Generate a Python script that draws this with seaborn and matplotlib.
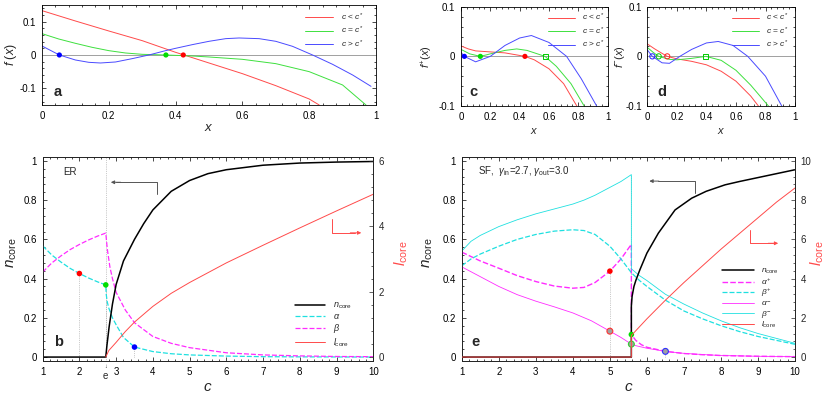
import numpy as np
import seaborn as sns
import matplotlib
matplotlib.use('Agg')
from matplotlib import pyplot as plt
from matplotlib.ticker import MultipleLocator, FuncFormatter

##### values

## panel a : f(x)
xa_lo = [0, 0.1, 0.2, 0.3, 0.4, 0.5, 0.6, 0.7, 0.8, 0.83]
fa_lo = [0.133, 0.102, 0.072, 0.043, 0.008, -0.024, -0.056, -0.092, -0.132, -0.15]
xa_eq = [0, 0.05, 0.1, 0.15, 0.2, 0.25, 0.3, 0.37, 0.45, 0.5, 0.6, 0.7, 0.8, 0.9, 0.97]
fa_eq = [0.064, 0.048, 0.035, 0.023, 0.013, 0.006, 0.002, 0.0, -0.003, -0.006, -0.013, -0.026, -0.05, -0.09, -0.15]
xa_hi = [0, 0.052, 0.1, 0.14, 0.175, 0.22, 0.27, 0.32, 0.37, 0.4, 0.45, 0.5, 0.55, 0.59, 0.65, 0.7, 0.75, 0.81, 0.87, 0.93, 0.985]
fa_hi = [0.027, 0.0, -0.015, -0.022, -0.024, -0.021, -0.011, 0.0, 0.013, 0.02, 0.031, 0.041, 0.049, 0.051, 0.049, 0.041, 0.026, 0.0, -0.028, -0.06, -0.094]
roots_a = [0.423, 0.371, 0.052]          # red, green, blue

## panel c : f+(x)
xc_lo = [0, 0.05, 0.1, 0.2, 0.3, 0.436, 0.5, 0.6, 0.7, 0.79]
fc_lo = [0.021, 0.015, 0.011, 0.009, 0.007, 0.0, -0.007, -0.025, -0.055, -0.1]
xc_eq = [0, 0.06, 0.132, 0.2, 0.3, 0.38, 0.45, 0.573, 0.65, 0.75, 0.84]
fc_eq = [0.014, 0.005, 0.0, 0.005, 0.012, 0.015, 0.012, 0.0, -0.02, -0.055, -0.1]
xc_hi = [0, 0.023, 0.1, 0.2, 0.3, 0.4, 0.48, 0.6, 0.72, 0.82, 0.925]
fc_hi = [0.008, 0.0, -0.011, 0.0, 0.022, 0.037, 0.042, 0.028, 0.0, -0.045, -0.1]
roots_c = [0.436, 0.132, 0.023]
square_c = 0.573

## panel d : f-(x)
xd_lo = [0, 0.05, 0.1, 0.135, 0.2, 0.3, 0.4, 0.5, 0.6, 0.7, 0.752]
fd_lo = [0.025, 0.015, 0.006, 0.0, -0.005, -0.01, -0.017, -0.03, -0.05, -0.08, -0.1]
xd_eq = [0, 0.04, 0.077, 0.15, 0.2, 0.3, 0.397, 0.5, 0.6, 0.7, 0.82]
fd_eq = [0.018, 0.008, 0.0, -0.006, -0.007, -0.004, 0.0, -0.008, -0.028, -0.058, -0.1]
xd_hi = [0, 0.034, 0.1, 0.15, 0.22, 0.3, 0.4, 0.48, 0.58, 0.68, 0.8, 0.91]
fd_hi = [0.013, 0.0, -0.013, -0.014, 0.0, 0.014, 0.027, 0.03, 0.022, 0.0, -0.04, -0.1]
roots_d = [0.135, 0.077, 0.034]
square_d = 0.397

## panel b : ER
cb_n = [1, 2.718, 2.75, 2.81, 2.9, 3.0, 3.2, 3.5, 3.75, 4, 4.5, 5, 5.5, 6, 7, 8, 9, 10]
nb = [0, 0, 0.06, 0.155, 0.27, 0.37, 0.49, 0.6, 0.68, 0.75, 0.845, 0.9, 0.935, 0.955, 0.978, 0.989, 0.994, 0.997]
cb_a = [1, 1.25, 1.5, 1.75, 2, 2.25, 2.5, 2.718, 2.73, 2.76, 2.8, 2.9, 3.0, 3.2, 3.5, 4, 4.5, 5, 6, 7, 8, 10]
alpha_b = [0.567, 0.52, 0.484, 0.452, 0.426, 0.403, 0.383, 0.368, 0.32, 0.28, 0.25, 0.2, 0.165, 0.1, 0.051, 0.028, 0.017, 0.011, 0.005, 0.002, 0.001, 0.0]
cb_b = [1, 1.25, 1.5, 1.75, 2, 2.25, 2.5, 2.718, 2.76, 2.83, 2.9, 3.0, 3.25, 3.5, 4, 4.5, 5, 6, 7, 8, 9, 10]
beta_b = [0.433, 0.48, 0.516, 0.548, 0.574, 0.597, 0.617, 0.632, 0.55, 0.46, 0.4, 0.33, 0.24, 0.175, 0.105, 0.07, 0.048, 0.022, 0.011, 0.006, 0.003, 0.002]
cb_l = [2.718, 2.8, 3, 3.25, 3.5, 4, 4.5, 5, 6, 7, 8, 9, 10]
lb = [0, 0.2, 0.45, 0.78, 1.07, 1.55, 1.95, 2.28, 2.88, 3.42, 3.95, 4.47, 4.98]
dots_b_c = [2, 2.718, 3.5]
dots_b_y = [0.426, 0.368, 0.051]

## panel e : SF
ce_n = [1, 5.58, 5.58, 5.6, 5.65, 5.7, 5.81, 6.0, 6.31, 6.76, 7.21, 7.6, 8.11, 8.5, 9, 9.5, 10]
ne = [0, 0, 0.26, 0.31, 0.36, 0.39, 0.445, 0.53, 0.632, 0.75, 0.81, 0.845, 0.878, 0.895, 0.915, 0.935, 0.955]
ce_ap = [1, 1.5, 2, 2.5, 3, 3.5, 4, 4.3, 4.6, 5, 5.3, 5.58, 5.58, 5.7, 5.85, 6, 6.5, 7, 7.5, 8, 9, 10]
alpha_p = [0.535, 0.49, 0.453, 0.415, 0.385, 0.362, 0.351, 0.355, 0.38, 0.438, 0.5, 0.575, 0.115, 0.085, 0.063, 0.05, 0.029, 0.018, 0.012, 0.008, 0.004, 0.002]
ce_bp = [1, 1.25, 1.5, 2, 2.5, 3, 3.5, 4, 4.3, 4.6, 5, 5.3, 5.58, 5.8, 6, 6.5, 7, 7.5, 8, 8.5, 9, 9.5, 10]
beta_p = [0.465, 0.5, 0.525, 0.565, 0.6, 0.625, 0.642, 0.649, 0.645, 0.625, 0.565, 0.5, 0.43, 0.39, 0.36, 0.29, 0.235, 0.195, 0.16, 0.13, 0.105, 0.085, 0.065]
ce_am = [1, 1.5, 2, 2.5, 3, 3.5, 4, 4.5, 5, 5.3, 5.58, 5.7, 6, 6.5, 7, 7.5, 8, 9, 10]
alpha_m = [0.46, 0.41, 0.36, 0.318, 0.285, 0.256, 0.225, 0.185, 0.132, 0.1, 0.066, 0.058, 0.045, 0.029, 0.019, 0.013, 0.008, 0.004, 0.002]
ce_bm = [1, 1.25, 1.5, 2, 2.5, 3, 3.5, 4, 4.3, 4.6, 5, 5.3, 5.58, 5.58, 5.8, 6, 6.5, 7, 7.5, 8, 8.5, 9, 9.5, 10]
beta_m = [0.54, 0.59, 0.62, 0.665, 0.7, 0.73, 0.755, 0.78, 0.8, 0.825, 0.865, 0.895, 0.93, 0.45, 0.415, 0.39, 0.32, 0.27, 0.225, 0.185, 0.15, 0.12, 0.095, 0.07]
ce_l = [1, 5.58, 5.58, 6, 6.5, 7, 7.5, 8, 8.5, 9, 9.5, 10]
le = [0, 0, 1.1, 1.95, 2.9, 3.8, 4.65, 5.5, 6.3, 7.1, 7.9, 8.62]
fill_e_c = [5, 5.58, 6.5]
fill_e_y = [0.438, 0.115, 0.029]
open_e_c = [5, 5.58, 6.5]
open_e_y = [0.132, 0.066, 0.029]
drop_e_c = [5, 5.58, 6.5]
drop_e_y = [0.438, 0.93, 0.029]

##### styling
sns.set_theme(style='ticks')
plt.rcParams['font.family'] = ['Liberation Sans', 'DejaVu Sans']
plt.rcParams['mathtext.fontset'] = 'custom'
plt.rcParams['mathtext.rm'] = 'Liberation Sans'
plt.rcParams['mathtext.it'] = 'Liberation Sans:italic'
plt.rcParams['mathtext.bf'] = 'Liberation Sans:bold'

RED = '#ff4a4a'
GREEN = '#3ee03e'
BLUE = '#4a4aff'
CYAN = '#1fe0e0'
MAG = '#ff2cff'
DASH = (0, (4, 1.6))
TICK = 7
fmt = FuncFormatter(lambda v, p: '%g' % round(v, 6))


def line(ax, x, y, **kw):
    sns.lineplot(x=x, y=y, ax=ax, estimator=None, sort=False, **kw)


def style(ax, xmaj, xmin, ymaj, ymin, right=True):
    ax.xaxis.set_major_locator(MultipleLocator(xmaj))
    ax.xaxis.set_minor_locator(MultipleLocator(xmin))
    ax.yaxis.set_major_locator(MultipleLocator(ymaj))
    ax.yaxis.set_minor_locator(MultipleLocator(ymin))
    ax.xaxis.set_major_formatter(fmt)
    ax.yaxis.set_major_formatter(fmt)
    ax.tick_params(which='both', direction='in', top=True, right=right,
                   labelsize=TICK, width=0.5, pad=4, colors='black')
    ax.tick_params(which='major', length=3)
    ax.tick_params(which='minor', length=1.5)
    for s in ax.spines.values():
        s.set_linewidth(0.6)
        s.set_color('black')


def style_right(ax2, ymaj, ymin):
    ax2.yaxis.set_major_locator(MultipleLocator(ymaj))
    ax2.yaxis.set_minor_locator(MultipleLocator(ymin))
    ax2.yaxis.set_major_formatter(fmt)
    ax2.tick_params(which='both', direction='in', labelsize=TICK, width=0.5, pad=4)
    ax2.tick_params(which='major', length=3)
    ax2.tick_params(which='minor', length=1.5)
    for s in ax2.spines.values():
        s.set_linewidth(0.6)


def make_legend(ax, handles, labels, x0, y0, size, hl, spacing):
    ax.legend(handles, labels, loc='upper left', bbox_to_anchor=(x0, y0), frameon=False,
              fontsize=size, handlelength=hl, handletextpad=0.9, labelspacing=spacing,
              borderpad=0, borderaxespad=0)


labels_top = [r'$c$ < $c^{*}$', r'$c$ = $c^{*}$', r'$c$ > $c^{*}$']

fig = plt.figure(figsize=(8.3, 3.95), dpi=100)
ax_a = fig.add_axes([0.0506, 0.7342, 0.4024, 0.2532])
ax_c = fig.add_axes([0.5554, 0.7316, 0.1767, 0.2514])
ax_d = fig.add_axes([0.7799, 0.7316, 0.1780, 0.2514])
ax_b = fig.add_axes([0.0514, 0.0861, 0.3983, 0.5165])
ax_e = fig.add_axes([0.5563, 0.0861, 0.4016, 0.5165])

##### panel a
ax_a.axhline(0, color='#a0a0a0', lw=0.7, zorder=1)
line(ax_a, xa_lo, fa_lo, color=RED, lw=0.7, label=labels_top[0])
line(ax_a, xa_eq, fa_eq, color=GREEN, lw=0.7, label=labels_top[1])
line(ax_a, xa_hi, fa_hi, color=BLUE, lw=0.7, label=labels_top[2])
ax_a.scatter(roots_a, [0, 0, 0], c=['#ff0000', '#00dd00', '#0000ff'], s=14, zorder=5, linewidths=0)
ax_a.set_xlim(0, 1)
ax_a.set_ylim(-0.15, 0.15)
style(ax_a, 0.2, 0.04, 0.1, 0.02)
ax_a.set_xlabel(r'$x$', fontsize=9.5)
ax_a.set_ylabel(r'$f\ (x)$', fontsize=9)
ax_a.xaxis.set_label_coords(0.5, -0.17)
ax_a.yaxis.set_label_coords(-0.07, 0.5)
ax_a.text(0.035, 0.13, 'a', transform=ax_a.transAxes, fontsize=10.5, fontweight='bold', va='center')
h, l = ax_a.get_legend_handles_labels()
make_legend(ax_a, h, l, 0.787, 0.935, 6, 3.4, 0.25)

##### panel c
ax_c.axhline(0, color='#a0a0a0', lw=0.7, zorder=1)
line(ax_c, xc_lo, fc_lo, color=RED, lw=0.7, label=labels_top[0])
line(ax_c, xc_eq, fc_eq, color=GREEN, lw=0.7, label=labels_top[1])
line(ax_c, xc_hi, fc_hi, color=BLUE, lw=0.7, label=labels_top[2])
ax_c.scatter(roots_c, [0, 0, 0], c=['#ff0000', '#00dd00', '#0000ff'], s=14, zorder=5, linewidths=0)
ax_c.scatter([square_c], [0], marker='s', s=13, facecolors='none', edgecolors='#00cc00', linewidths=0.7, zorder=5)
ax_c.set_xlim(0, 1)
ax_c.set_ylim(-0.1, 0.1)
style(ax_c, 0.2, 0.04, 0.1, 0.02)
ax_c.set_xlabel(r'$x$', fontsize=8)
ax_c.set_ylabel(r'$f^{+}(x)$', fontsize=8)
ax_c.xaxis.set_label_coords(0.5, -0.2)
ax_c.yaxis.set_label_coords(-0.175, 0.5)
ax_c.text(0.06, 0.145, 'c', transform=ax_c.transAxes, fontsize=10.5, fontweight='bold', va='center')
h, l = ax_c.get_legend_handles_labels()
make_legend(ax_c, h, l, 0.593, 0.945, 6, 3.2, 0.25)

##### panel d
ax_d.axhline(0, color='#a0a0a0', lw=0.7, zorder=1)
line(ax_d, xd_lo, fd_lo, color=RED, lw=0.7, label=labels_top[0])
line(ax_d, xd_eq, fd_eq, color=GREEN, lw=0.7, label=labels_top[1])
line(ax_d, xd_hi, fd_hi, color=BLUE, lw=0.7, label=labels_top[2])
ax_d.scatter(roots_d, [0, 0, 0], s=14, facecolors='none', edgecolors=['#ff2020', '#00cc00', '#2020ff'],
             linewidths=0.7, zorder=5)
ax_d.scatter([square_d], [0], marker='s', s=13, facecolors='none', edgecolors='#00cc00', linewidths=0.7, zorder=5)
ax_d.set_xlim(0, 1)
ax_d.set_ylim(-0.1, 0.1)
style(ax_d, 0.2, 0.04, 0.1, 0.02)
ax_d.set_xlabel(r'$x$', fontsize=8)
ax_d.set_ylabel(r'$f^{-}(x)$', fontsize=8)
ax_d.xaxis.set_label_coords(0.5, -0.2)
ax_d.yaxis.set_label_coords(-0.135, 0.5)
ax_d.text(0.07, 0.145, 'd', transform=ax_d.transAxes, fontsize=10.5, fontweight='bold', va='center')
h, l = ax_d.get_legend_handles_labels()
make_legend(ax_d, h, l, 0.573, 0.945, 6, 3.2, 0.25)

##### panel b (ER)
ax_b2 = ax_b.twinx()
ax_b.vlines(dots_b_c, 0, dots_b_y, colors='#9a9a9a', lw=0.5, linestyles=':', zorder=1)
ax_b.axvline(np.e, color='#9a9a9a', lw=0.5, ls=':', zorder=1)
line(ax_b, cb_n, nb, color='black', lw=1.1, label=r'$n_{\rm core}$', zorder=4)
line(ax_b, cb_a, alpha_b, color=CYAN, lw=0.9, linestyle=DASH, label=r'$\alpha$', zorder=3)
line(ax_b, cb_b, beta_b, color=MAG, lw=0.9, linestyle=DASH, label=r'$\beta$', zorder=3)
line(ax_b2, cb_l, lb, color=RED, lw=0.7, label=r'$l_{\rm core}$')
ax_b.scatter(dots_b_c, dots_b_y, c=['#ff0000', '#00dd00', '#0000ff'], s=16, zorder=6, linewidths=0)
# arrows pointing at the axes
ax_b.plot([4.12, 4.12, 3.0], [0.83, 0.891, 0.891], color='#555555', lw=0.7)
ax_b.annotate('', xy=(2.78, 0.891), xytext=(3.2, 0.891),
              arrowprops=dict(arrowstyle='-|>', color='#555555', lw=0.7, mutation_scale=5))
ax_b2.plot([8.87, 8.87, 9.5], [4.22, 3.8, 3.8], color=RED, lw=0.7)
ax_b2.annotate('', xy=(9.75, 3.8), xytext=(9.3, 3.8),
               arrowprops=dict(arrowstyle='-|>', color=RED, lw=0.7, mutation_scale=5))
ax_b.set_xlim(1, 10)
ax_b.set_ylim(-0.02, 1.02)
ax_b2.set_ylim(-0.12, 6.12)
style(ax_b, 1, 0.2, 0.2, 0.04, right=False)
style_right(ax_b2, 2, 0.4)
ax_b.set_xlabel(r'$c$', fontsize=11)
ax_b.set_ylabel(r'$n_{\rm core}$', fontsize=11)
ax_b2.set_ylabel(r'$l_{\rm core}$', fontsize=11, color=RED)
ax_b.xaxis.set_label_coords(0.5, -0.095)
ax_b.yaxis.set_label_coords(-0.072, 0.53)
ax_b2.yaxis.set_label_coords(1.06, 0.53)
ax_b.text(np.e, -0.028, '\u2193', transform=ax_b.get_xaxis_transform(), fontsize=4, ha='center', va='center')
ax_b.text(np.e, -0.075, 'e', transform=ax_b.get_xaxis_transform(), fontsize=TICK, ha='center', va='center')
ax_b.text(1.56, 0.945, 'ER', fontsize=7, va='center')
ax_b.text(1.3, 0.075, 'b', fontsize=10.5, fontweight='bold', va='center')
h1, l1 = ax_b.get_legend_handles_labels()
h2, l2 = ax_b2.get_legend_handles_labels()
if ax_b2.get_legend():
    ax_b2.get_legend().remove()
make_legend(ax_b, h1 + h2, l1 + l2, 0.763, 0.295, 6.5, 3.3, 0.12)

##### panel e (SF)
ax_e2 = ax_e.twinx()
ax_e.vlines(drop_e_c, 0, drop_e_y, colors='#9a9a9a', lw=0.5, linestyles=':', zorder=1)
line(ax_e, ce_n, ne, color='black', lw=1.1, label=r'$n_{\rm core}$', zorder=4)
line(ax_e, ce_ap, alpha_p, color=MAG, lw=1.0, linestyle=DASH, label=r'$\alpha^{+}$', zorder=3)
line(ax_e, ce_bp, beta_p, color=CYAN, lw=0.9, linestyle=DASH, label=r'$\beta^{+}$', zorder=3)
line(ax_e, ce_am, alpha_m, color=MAG, lw=0.6, label=r'$\alpha^{-}$', zorder=3)
line(ax_e, ce_bm, beta_m, color=CYAN, lw=0.6, label=r'$\beta^{-}$', zorder=3)
line(ax_e2, ce_l, le, color=RED, lw=0.7, label=r'$l_{\rm core}$', zorder=5)
ax_e.scatter(fill_e_c, fill_e_y, c=['#ff0000', '#00dd00', '#0000ff'], s=16, zorder=6, linewidths=0)
ax_e.scatter(open_e_c, open_e_y, s=18, facecolors='#a0a0a0', edgecolors=['#ff3030', '#33cc33', '#3030ff'],
             linewidths=0.8, zorder=7)
ax_e.plot([7.3, 7.3, 6.3], [0.835, 0.897, 0.897], color='#555555', lw=0.7)
ax_e.annotate('', xy=(5.99, 0.897), xytext=(6.4, 0.897),
              arrowprops=dict(arrowstyle='-|>', color='#555555', lw=0.7, mutation_scale=5))
ax_e2.plot([8.78, 8.78, 9.4], [6.48, 5.8, 5.8], color=RED, lw=0.7)
ax_e2.annotate('', xy=(9.62, 5.8), xytext=(9.2, 5.8),
               arrowprops=dict(arrowstyle='-|>', color=RED, lw=0.7, mutation_scale=5))
ax_e.set_xlim(1, 10)
ax_e.set_ylim(-0.02, 1.02)
ax_e2.set_ylim(-0.2, 10.2)
style(ax_e, 1, 0.2, 0.2, 0.04, right=False)
style_right(ax_e2, 2, 0.4)
ax_e.set_xlabel(r'$c$', fontsize=11)
ax_e.set_ylabel(r'$n_{\rm core}$', fontsize=11)
ax_e2.set_ylabel(r'$l_{\rm core}$', fontsize=11, color=RED)
ax_e.xaxis.set_label_coords(0.5, -0.095)
ax_e.yaxis.set_label_coords(-0.08, 0.53)
ax_e2.yaxis.set_label_coords(1.04, 0.53)
ax_e.text(1.45, 0.95, r'SF,  $\gamma_{\rm in}$=2.7, $\gamma_{\rm out}$=3.0', fontsize=7, va='center')
ax_e.text(1.25, 0.075, 'e', fontsize=10.5, fontweight='bold', va='center')
h1, l1 = ax_e.get_legend_handles_labels()
h2, l2 = ax_e2.get_legend_handles_labels()
if ax_e2.get_legend():
    ax_e2.get_legend().remove()
make_legend(ax_e, h1 + h2, l1 + l2, 0.781, 0.46, 6, 3.8, 0.02)

plt.savefig('out.png', dpi=100)
